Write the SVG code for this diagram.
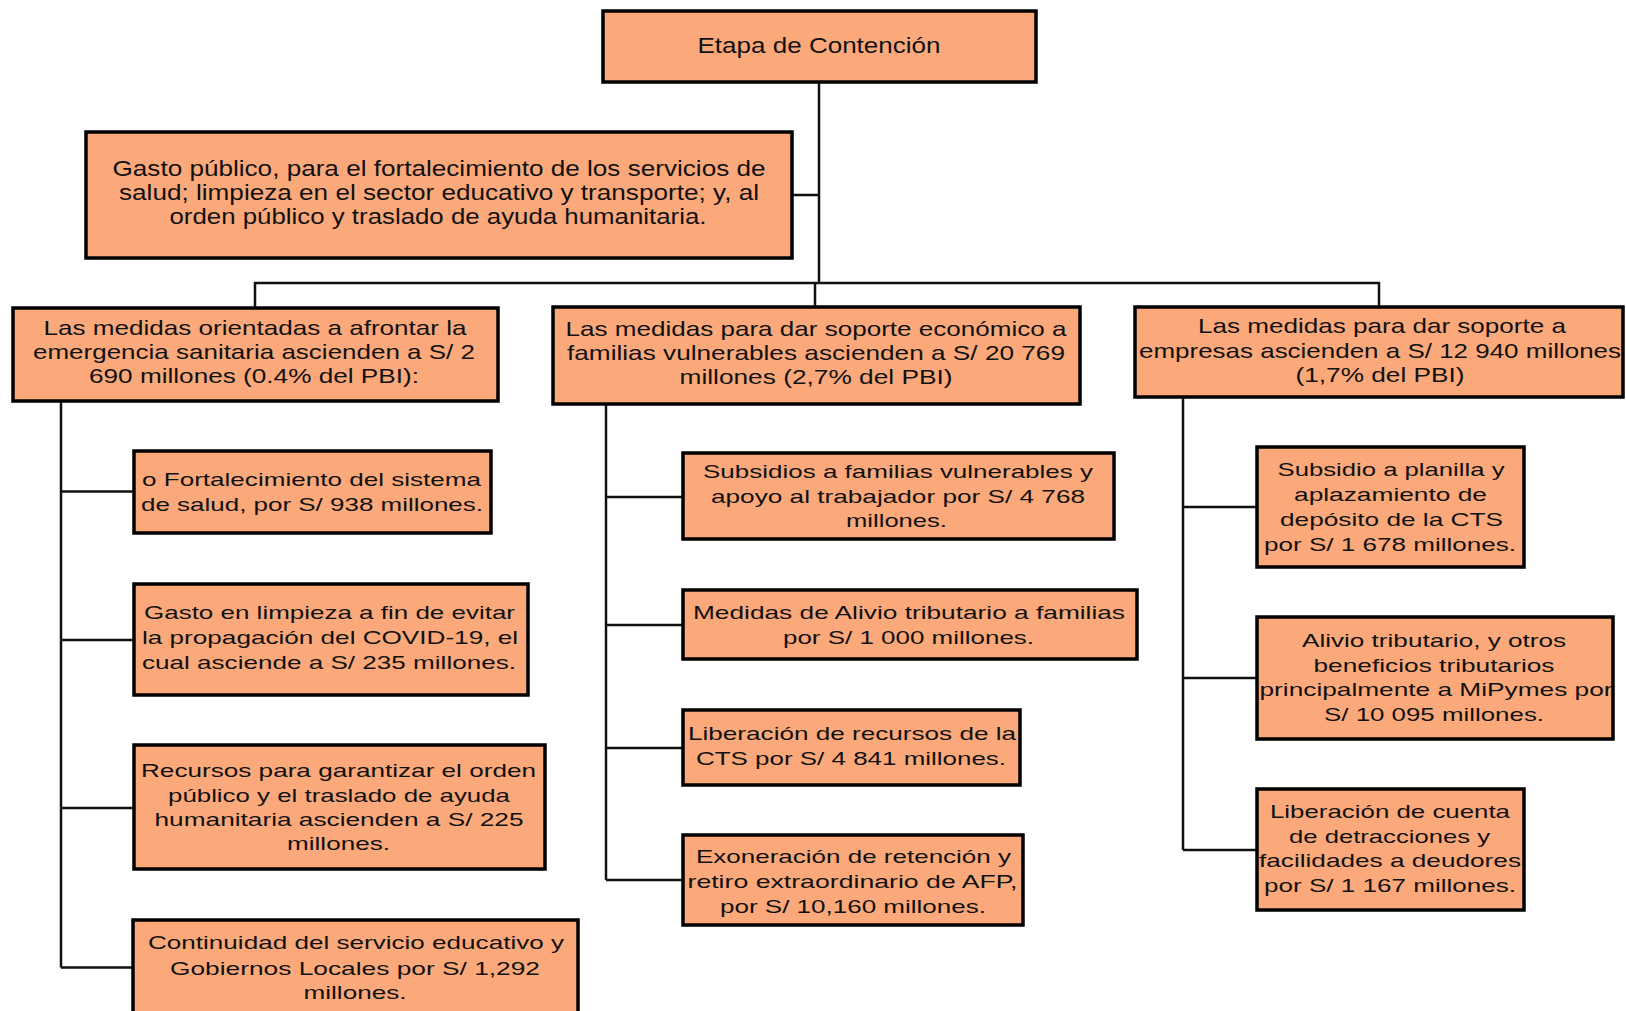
<svg xmlns="http://www.w3.org/2000/svg" width="1626" height="1011" viewBox="0 0 1626 1011">
<style>
.box{fill:#FBA97B;stroke:#000;stroke-width:3.5}
.c{fill:none;stroke:#111;stroke-width:2.5}
text{font-family:"Liberation Sans",Arial,sans-serif;fill:#111;text-anchor:middle}
.t1{font-size:22px}
.t2{font-size:21px}
.t3{font-size:19px}
</style>
<rect width="1626" height="1011" fill="#fff"/>
<g id="connectors">
<path class="c" d="M819 82V283M792 195H819M255 308V283H1379V307M815 283V307"/>
<path class="c" d="M61 401V967.5M61 491.5H134M61 640H134M61 808H134M61 967.5H134"/>
<path class="c" d="M606 403V880M606 497H683M606 625H683M606 748H683M606 880H683"/>
<path class="c" d="M1183 396V850M1183 507H1257M1183 678H1257M1183 850H1257"/>
</g>
<g id="n-top">
<rect class="box" x="603" y="11" width="433" height="71"/>
<text class="t1" x="819" y="53" textLength="243" lengthAdjust="spacingAndGlyphs">Etapa de Contención</text>
</g>
<g id="n-gasto">
<rect class="box" x="86" y="132" width="706" height="126"/>
<text class="t1" x="439" y="176" textLength="653" lengthAdjust="spacingAndGlyphs">Gasto público, para el fortalecimiento de los servicios de</text>
<text class="t1" x="439" y="200" textLength="640" lengthAdjust="spacingAndGlyphs">salud; limpieza en el sector educativo y transporte; y, al</text>
<text class="t1" x="438" y="224" textLength="537" lengthAdjust="spacingAndGlyphs">orden público y traslado de ayuda  humanitaria.</text>
</g>
<g id="n-sanitaria">
<rect class="box" x="13" y="308" width="485" height="93"/>
<text class="t2" x="255" y="335" textLength="423" lengthAdjust="spacingAndGlyphs">Las medidas orientadas a afrontar la</text>
<text class="t2" x="254" y="359" textLength="442" lengthAdjust="spacingAndGlyphs">emergencia sanitaria  ascienden a S/ 2</text>
<text class="t2" x="254" y="383" textLength="330" lengthAdjust="spacingAndGlyphs">690 millones (0.4% del PBI):</text>
</g>
<g id="n-familias">
<rect class="box" x="553" y="307" width="527" height="97"/>
<text class="t2" x="816" y="336" textLength="501" lengthAdjust="spacingAndGlyphs">Las medidas para dar soporte económico a</text>
<text class="t2" x="816" y="360" textLength="498" lengthAdjust="spacingAndGlyphs">familias vulnerables ascienden a S/ 20 769</text>
<text class="t2" x="816" y="384" textLength="273" lengthAdjust="spacingAndGlyphs">millones (2,7% del PBI)</text>
</g>
<g id="n-empresas">
<rect class="box" x="1135" y="307" width="488" height="90"/>
<text class="t2" x="1382" y="333" textLength="368" lengthAdjust="spacingAndGlyphs">Las medidas para dar soporte a</text>
<text class="t2" x="1380" y="358" textLength="482" lengthAdjust="spacingAndGlyphs">empresas ascienden a  S/ 12 940 millones</text>
<text class="t2" x="1380" y="382" textLength="169" lengthAdjust="spacingAndGlyphs">(1,7% del PBI)</text>
</g>
<g id="n-l1">
<rect class="box" x="134" y="451" width="357" height="82"/>
<text class="t3" x="311.5" y="486" textLength="339" lengthAdjust="spacingAndGlyphs">o Fortalecimiento del sistema</text>
<text class="t3" x="312" y="511" textLength="342" lengthAdjust="spacingAndGlyphs">de salud, por S/ 938 millones.</text>
</g>
<g id="n-l2">
<rect class="box" x="134" y="584" width="394" height="111"/>
<text class="t3" x="329.5" y="619" textLength="371" lengthAdjust="spacingAndGlyphs">Gasto en limpieza a  fin de evitar</text>
<text class="t3" x="330" y="644" textLength="376" lengthAdjust="spacingAndGlyphs">la propagación del COVID-19, el</text>
<text class="t3" x="329" y="669" textLength="374" lengthAdjust="spacingAndGlyphs">cual asciende a S/ 235 millones.</text>
</g>
<g id="n-l3">
<rect class="box" x="134" y="745" width="411" height="124"/>
<text class="t3" x="338.5" y="777" textLength="395" lengthAdjust="spacingAndGlyphs">Recursos para garantizar  el orden</text>
<text class="t3" x="339" y="801.5" textLength="342" lengthAdjust="spacingAndGlyphs">público y el traslado de ayuda</text>
<text class="t3" x="339" y="825.5" textLength="369" lengthAdjust="spacingAndGlyphs">humanitaria  ascienden a S/ 225</text>
<text class="t3" x="338.5" y="850" textLength="103" lengthAdjust="spacingAndGlyphs">millones.</text>
</g>
<g id="n-l4">
<rect class="box" x="133" y="920" width="445" height="100"/>
<text class="t3" x="356" y="949" textLength="416" lengthAdjust="spacingAndGlyphs">Continuidad del servicio educativo y</text>
<text class="t3" x="355" y="975" textLength="370" lengthAdjust="spacingAndGlyphs">Gobiernos Locales por S/ 1,292</text>
<text class="t3" x="355" y="999" textLength="103" lengthAdjust="spacingAndGlyphs">millones.</text>
</g>
<g id="n-m1">
<rect class="box" x="683" y="453" width="431" height="86"/>
<text class="t3" x="898" y="478" textLength="390" lengthAdjust="spacingAndGlyphs">Subsidios a familias vulnerables y</text>
<text class="t3" x="898" y="503" textLength="374" lengthAdjust="spacingAndGlyphs">apoyo al trabajador por S/ 4 768</text>
<text class="t3" x="896.5" y="527" textLength="101" lengthAdjust="spacingAndGlyphs">millones.</text>
</g>
<g id="n-m2">
<rect class="box" x="683" y="590" width="454" height="69"/>
<text class="t3" x="909" y="619" textLength="432" lengthAdjust="spacingAndGlyphs">Medidas de Alivio tributario  a  familias</text>
<text class="t3" x="908.5" y="644" textLength="251" lengthAdjust="spacingAndGlyphs">por S/ 1 000 millones.</text>
</g>
<g id="n-m3">
<rect class="box" x="683" y="710" width="337" height="75"/>
<text class="t3" x="852" y="740" textLength="328" lengthAdjust="spacingAndGlyphs">Liberación de recursos de la</text>
<text class="t3" x="851" y="765" textLength="310" lengthAdjust="spacingAndGlyphs">CTS por S/ 4 841 millones.</text>
</g>
<g id="n-m4">
<rect class="box" x="683" y="835" width="340" height="90"/>
<text class="t3" x="853.5" y="863" textLength="315" lengthAdjust="spacingAndGlyphs">Exoneración de retención y</text>
<text class="t3" x="852.5" y="888" textLength="330" lengthAdjust="spacingAndGlyphs">retiro extraordinario de AFP,</text>
<text class="t3" x="853" y="912.5" textLength="266" lengthAdjust="spacingAndGlyphs">por S/ 10,160 millones.</text>
</g>
<g id="n-r1">
<rect class="box" x="1257" y="447" width="267" height="120"/>
<text class="t3" x="1391" y="476" textLength="227" lengthAdjust="spacingAndGlyphs">Subsidio a  planilla  y</text>
<text class="t3" x="1390.5" y="501" textLength="193" lengthAdjust="spacingAndGlyphs">aplazamiento  de</text>
<text class="t3" x="1391.5" y="526" textLength="223" lengthAdjust="spacingAndGlyphs">depósito de la  CTS</text>
<text class="t3" x="1390" y="551" textLength="252" lengthAdjust="spacingAndGlyphs">por S/  1 678 millones.</text>
</g>
<g id="n-r2">
<rect class="box" x="1257" y="617" width="356" height="122"/>
<text class="t3" x="1434" y="647" textLength="264" lengthAdjust="spacingAndGlyphs">Alivio tributario,  y  otros</text>
<text class="t3" x="1434" y="672" textLength="241" lengthAdjust="spacingAndGlyphs">beneficios tributarios</text>
<text class="t3" x="1436" y="696" textLength="353" lengthAdjust="spacingAndGlyphs">principalmente a  MiPymes por</text>
<text class="t3" x="1434" y="721" textLength="220" lengthAdjust="spacingAndGlyphs">S/ 10 095 millones.</text>
</g>
<g id="n-r3">
<rect class="box" x="1257" y="789" width="267" height="121"/>
<text class="t3" x="1390" y="818" textLength="240" lengthAdjust="spacingAndGlyphs">Liberación de cuenta</text>
<text class="t3" x="1389.5" y="843" textLength="201" lengthAdjust="spacingAndGlyphs">de detracciones y</text>
<text class="t3" x="1390" y="867" textLength="262" lengthAdjust="spacingAndGlyphs">facilidades a deudores</text>
<text class="t3" x="1390" y="892" textLength="252" lengthAdjust="spacingAndGlyphs">por S/  1 167 millones.</text>
</g>
</svg>
